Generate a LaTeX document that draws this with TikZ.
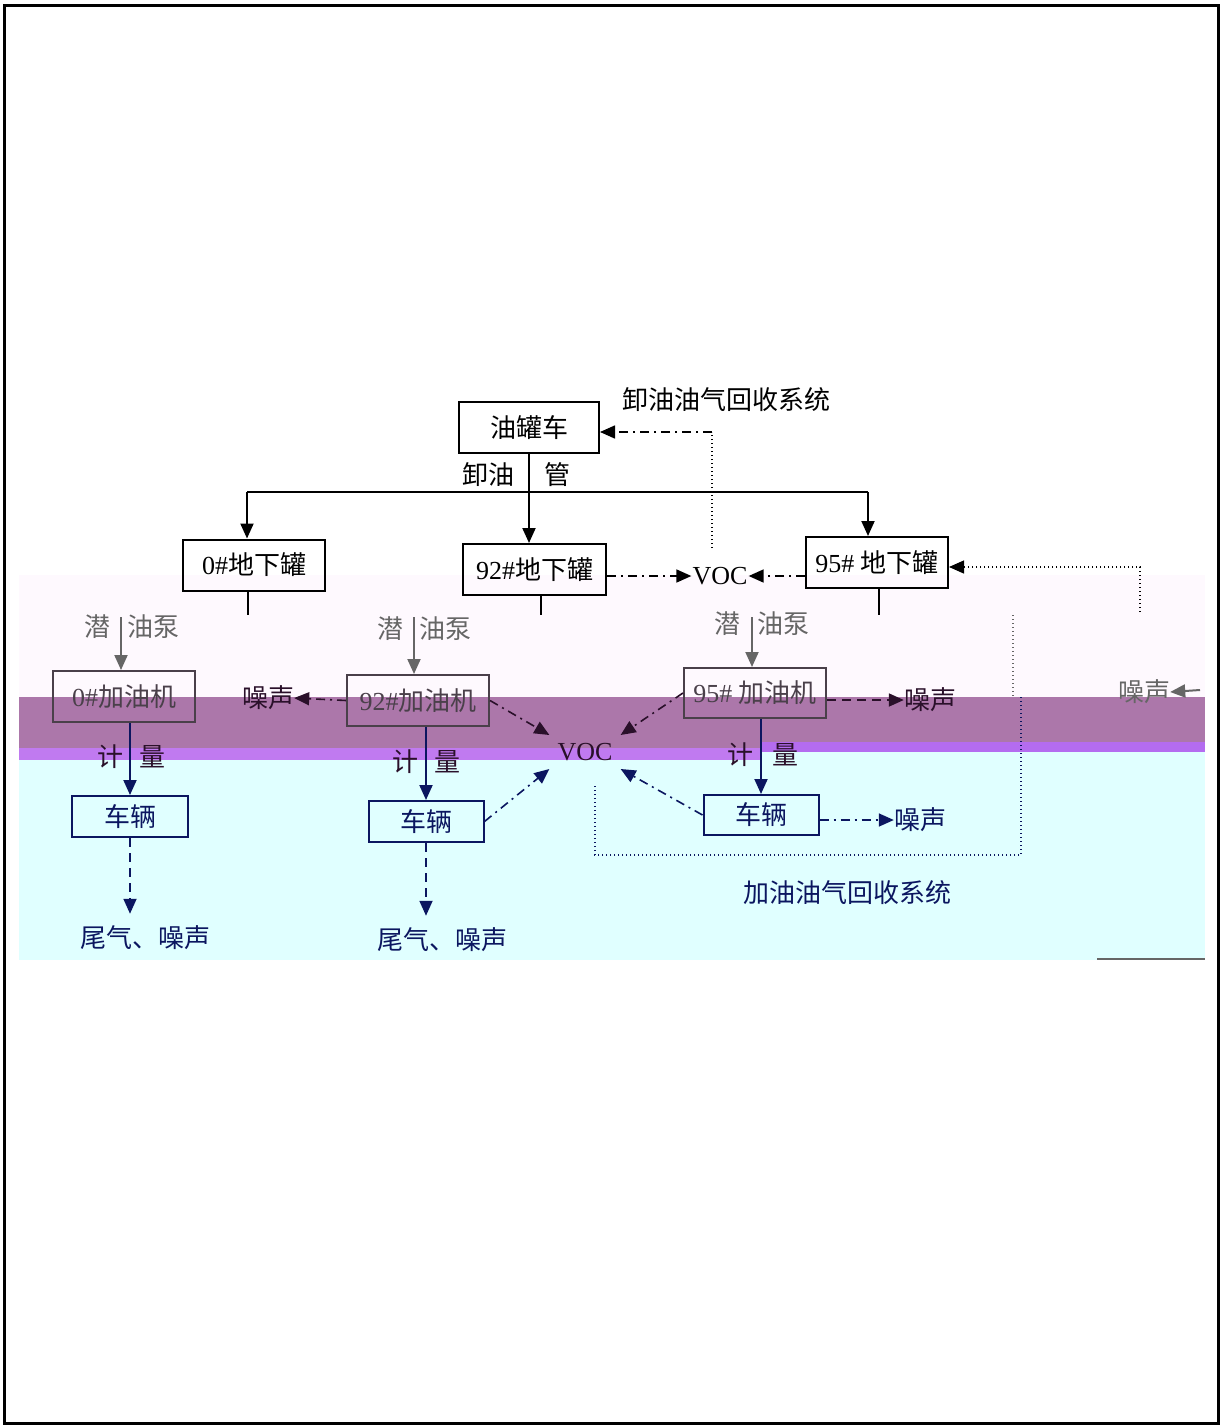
\documentclass[tikz,border=0pt]{standalone}
\usepackage{fontspec}
\setmainfont{Liberation Serif}
\newfontfamily\cjk{Noto Sans CJK SC}
\usetikzlibrary{arrows.meta}
\definecolor{navyc}{HTML}{0B1660}
\definecolor{grayt}{HTML}{666666}
\definecolor{darkp}{HTML}{2A102A}
\definecolor{dispc}{HTML}{4A404A}
\definecolor{bgfaint}{HTML}{FEF9FE}
\definecolor{bgpurple}{HTML}{AC77AA}
\definecolor{bgviolA}{HTML}{C07AF0}
\definecolor{bgviolB}{HTML}{B46CF0}
\definecolor{bgcyan}{HTML}{E0FFFF}
\begin{document}
\begin{tikzpicture}[x=1pt,y=-1pt,
  box/.style={draw,line width=2pt,inner sep=0pt,font=\fontsize{26}{26}\selectfont},
  lbl/.style={inner sep=0pt,font=\cjk\fontsize{26}{26}\selectfont},
  voc/.style={font=\fontsize{26}{26}\selectfont},
  ln/.style={line width=2pt},
  arr/.style={-{Triangle[length=15pt,width=13pt]}},
  dd/.style={line width=1.6pt,dash pattern=on 9pt off 5pt on 2pt off 5pt},
  dsh/.style={line width=1.8pt,dash pattern=on 9pt off 6pt},
  dotl/.style={line width=1.3pt,dash pattern=on 1.4pt off 2.6pt}
]
\useasboundingbox (0,0) rectangle (1222,1426);
% background bands
\fill[bgfaint] (19,575) rectangle (1205,697);
\fill[bgpurple] (19,697) rectangle (1205,760);
\fill[bgviolA] (19,748) rectangle (760,760);
\fill[bgviolB] (760,742) rectangle (1205,752);
\fill[bgcyan] (760,752) rectangle (1205,760);
\fill[bgcyan] (19,760) rectangle (1205,960);
\fill[grayt] (1097,958) rectangle (1205,960);
% frame
\draw[line width=3pt] (4.5,5.5) rectangle (1218,1423.5);

% top part
\node[box,minimum width=140pt,minimum height=51pt] (truck) at (529,427.5) {\cjk 油罐车};
\node[lbl] (sys1) at (726,400) {卸油油气回收系统};
\node[lbl] (xy) at (488,475) {卸油};
\node[lbl] (gu) at (557,475) {管};

\node[box,minimum width=142pt,minimum height=51pt] (tank0) at (254,565) {0\#{\cjk 地下罐}};
\node[box,minimum width=143pt,minimum height=51pt] (tank92) at (534.5,569.5) {92\#{\cjk 地下罐}};
\node[box,minimum width=142pt,minimum height=51pt] (tank95) at (877,562.5) {95\# {\cjk 地下罐}};

\coordinate (j0) at (247,492);
\coordinate (j95) at (868,492);
\draw[ln] (j0) -- (j95);
\draw[ln,arr] (j0) -- (j0 |- tank0.north);
\draw[ln,arr] (j95) -- (j95 |- tank95.north);
\draw[ln,arr] (truck.south) -- (truck.south |- tank92.north);

\node[voc,inner sep=1pt] (voc1) at (720,576) {VOC};
\draw[dd,arr] (tank92.east |- voc1.west) -- (voc1.west);
\draw[dd,arr] (tank95.west |- voc1.east) -- (voc1.east);

\coordinate (vt) at (712,548);
\coordinate (vc) at (712,432);
\draw[dotl] (vt) -- (vc);
\draw[dd,arr] (vc) -- (vc -| truck.east);

\coordinate (rb) at (1140,612);
\coordinate (rc) at (1140,567);
\draw[dotl,arr] (rb) -- (rc) -- (rc -| tank95.east);

\coordinate (s0) at (248,615);
\coordinate (s92) at (541,615);
\coordinate (s95) at (879,615);
\draw[ln] (tank0.south -| s0) -- (s0);
\draw[ln] (tank92.south -| s92) -- (s92);
\draw[ln] (tank95.south -| s95) -- (s95);

% gray band
\node[lbl,text=grayt] (q0) at (97,627) {潜};
\node[lbl,text=grayt] (y0) at (153,627) {油泵};
\node[lbl,text=grayt] (q92) at (390,629) {潜};
\node[lbl,text=grayt] (y92) at (445,629) {油泵};
\node[lbl,text=grayt] (q95) at (727,624) {潜};
\node[lbl,text=grayt] (y95) at (783,624) {油泵};

\node[box,draw=dispc,text=dispc,minimum width=142pt,minimum height=51pt] (disp0) at (124,696.5) {0\#{\cjk 加油机}};
\node[box,draw=dispc,text=dispc,minimum width=142pt,minimum height=51pt] (disp92) at (418,700.5) {92\#{\cjk 加油机}};
\node[box,draw=dispc,text=dispc,minimum width=142pt,minimum height=50pt] (disp95) at (755,693) {95\# {\cjk 加油机}};

\coordinate (p0) at (121,617);
\coordinate (p92) at (414,617);
\coordinate (p95) at (752,617);
\draw[ln,grayt,arr] (p0) -- (p0 |- disp0.north);
\draw[ln,grayt,arr] (p92) -- (p92 |- disp92.north);
\draw[ln,grayt,arr] (p95) -- (p95 |- disp95.north);

\node[lbl,text=grayt] (n4) at (1144,692) {噪声};
\coordinate (ne) at (1200,690);
\draw[ln,grayt,arr] (ne) -- (n4.east);
\draw[dotl,grayt] (1013,615) -- (1013,697);

% purple band
\node[lbl,text=darkp] (n1) at (268,698) {噪声};
\draw[dd,darkp,arr] (disp92.west) -- (n1.east);
\node[lbl,text=darkp] (n2) at (930,700) {噪声};
\draw[dsh,darkp,arr] (disp95.east |- n2.west) -- (n2.west);

\node[voc,text=darkp,inner sep=8pt] (voc2) at (585,752) {VOC};
\draw[dd,darkp,arr] (disp92.east) -- (voc2.north west);
\draw[dd,darkp,arr] (disp95.west) -- (voc2.north east);

\node[lbl,text=darkp] (k0) at (110,757) {计};
\node[lbl,text=darkp] (l0) at (152,757) {量};
\node[lbl,text=darkp] (k92) at (405,762) {计};
\node[lbl,text=darkp] (l92) at (447,762) {量};
\node[lbl,text=darkp] (k95) at (740,755) {计};
\node[lbl,text=darkp] (l95) at (785,755) {量};

% cyan region
\node[box,draw=navyc,text=navyc,minimum width=116pt,minimum height=41pt] (car0) at (130,816.5) {\cjk 车辆};
\node[box,draw=navyc,text=navyc,minimum width=115pt,minimum height=41pt] (car92) at (426,821.5) {\cjk 车辆};
\node[box,draw=navyc,text=navyc,minimum width=115pt,minimum height=40pt] (car95) at (761,815) {\cjk 车辆};

\draw[ln,navyc,arr] (car0.north |- disp0.south) -- (car0.north);
\draw[ln,navyc,arr] (car92.north |- disp92.south) -- (car92.north);
\draw[ln,navyc,arr] (car95.north |- disp95.south) -- (car95.north);

\node[lbl,text=navyc] (ex0) at (145,938) {尾气、噪声};
\node[lbl,text=navyc] (ex92) at (442,940) {尾气、噪声};
\draw[dsh,navyc,arr,shorten >=12pt] (car0.south) -- (car0.south |- ex0.north);
\draw[dsh,navyc,arr,shorten >=12pt] (car92.south) -- (car92.south |- ex92.north);

\draw[dd,navyc,arr] (car92.east) -- (voc2.south west);
\draw[dd,navyc,arr] (car95.west) -- (voc2.south east);

\node[lbl,text=navyc] (n3) at (920,820) {噪声};
\draw[dd,navyc,arr] (car95.east |- n3.west) -- (n3.west);

\coordinate (b1) at (1021,697);
\coordinate (b2) at (1021,855);
\coordinate (b3) at (595,855);
\coordinate (b4) at (595,785);
\draw[dotl,navyc] (b1) -- (b2) -- (b3) -- (b4);

\node[lbl,text=navyc] (sys2) at (847,893) {加油油气回收系统};
\end{tikzpicture}
\end{document}
